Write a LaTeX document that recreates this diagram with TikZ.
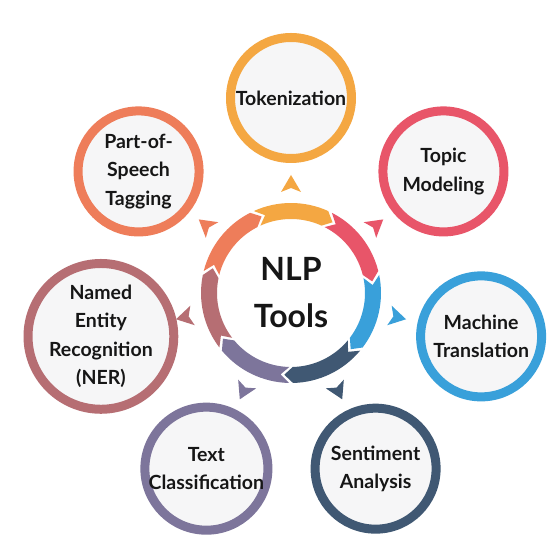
\documentclass[tikz,border=0pt]{standalone}
\usepackage{fontspec}
\setmainfont{Lato}
\definecolor{ctok}{HTML}{F4A742}
\definecolor{ctop}{HTML}{E85569}
\definecolor{cmac}{HTML}{39A0DA}
\definecolor{csen}{HTML}{405873}
\definecolor{ctxt}{HTML}{7D759B}
\definecolor{cner}{HTML}{B66E73}
\definecolor{cpos}{HTML}{EE7D5A}
\definecolor{satfill}{HTML}{F6F6F7}
\definecolor{txt}{HTML}{161616}
\begin{document}
\begin{tikzpicture}[x=1pt,y=1pt,
  sat/.style={circle, draw=#1, line width=9pt, fill=satfill, minimum size=121pt,
    inner sep=0pt, align=center, text=txt,
    font=\fontsize{19.5}{28.5}\selectfont\bfseries},
  hub/.style={align=center, text=txt, font=\fontsize{32}{47}\selectfont\bfseries}
]
\useasboundingbox (0,0) rectangle (552,538);
\fill[white] (0,0) rectangle (552,538);
\coordinate (C) at (291,245);

% ring segments and outward arrowheads
\foreach \i/\col in {0/ctok,1/ctop,2/cmac,3/csen,4/ctxt,5/cner,6/cpos} {
  \pgfmathsetmacro\c{90-\i*360/7}
  \pgfmathsetmacro\s{\c+25.714-1.3}
  \pgfmathsetmacro\e{\c-25.714+1.3}
  \pgfmathsetmacro\ep{\e-6}
  \pgfmathsetmacro\sn{\s-6}
  \begin{scope}[shift={(C)}]
    \fill[\col] (\s:90) arc[start angle=\s, end angle=\e, radius=90]
      -- (\ep:82) -- (\e:74) arc[start angle=\e, end angle=\s, radius=74]
      -- (\sn:82) -- cycle;
  \end{scope}
  \begin{scope}[shift={(C)}, rotate=\c]
    \fill[\col] (118,0) -- (101,10) -- (105,0) -- (101,-10) -- cycle;
  \end{scope}
}

\node[hub] (nlp) at (C) {NLP\\Tools};

\node[sat=ctok] (tok) at ([shift={(90:195)}]C) {Tokenization};
\node[sat=ctop] (top) at ([shift={(38.571:195)}]C) {Topic\\Modeling};
\node[sat=cmac] (mac) at ([shift={(-12.857:195)}]C) {Machine\\Translation};
\node[sat=csen] (sen) at ([shift={(-64.286:195)}]C) {Sentiment\\Analysis};
\node[sat=ctxt] (tcl) at ([shift={(-115.714:195)}]C) {Text\\Classification};
\node[sat=cner] (ner) at ([shift={(192.857:195)}]C) {Named\\Entity\\Recognition\\(NER)};
\node[sat=cpos] (pos) at ([shift={(141.429:195)}]C) {Part-of-\\Speech\\Tagging};
\end{tikzpicture}
\end{document}
